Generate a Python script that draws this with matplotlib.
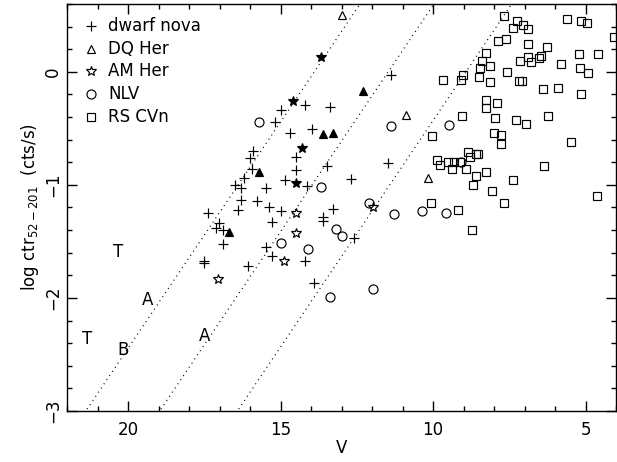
import matplotlib
matplotlib.use("Agg")
import matplotlib.pyplot as plt
from matplotlib.ticker import MultipleLocator
import numpy as np

plt.rcParams['font.family'] = ['DejaVu Sans']
plt.rcParams['font.size'] = 12
plt.rcParams['mathtext.fontset'] = 'dejavusans'

# dwarf novae (V mag, log count rate)
dn_v = [11.39, 14.21, 13.38, 13.99, 13.49, 11.49, 12.70, 14.13, 14.99, 15.19,
        14.70, 15.90, 16.01, 14.50, 15.95, 14.50, 16.21, 14.86, 16.50, 16.31,
        15.49, 16.31, 15.79, 17.40, 16.39, 15.39, 14.99, 17.02, 17.13, 16.89,
        16.89, 17.51, 17.51, 16.09, 15.49, 15.28, 14.21, 15.29, 13.90, 13.60,
        13.60, 13.30, 12.59]
dn_ctr = [-0.03, -0.29, -0.31, -0.51, -0.83, -0.81, -0.95, -1.01, -0.34, -0.44,
          -0.54, -0.70, -0.76, -0.75, -0.86, -0.87, -0.94, -0.96, -1.00, -1.03,
          -1.03, -1.13, -1.14, -1.25, -1.22, -1.20, -1.23, -1.34, -1.38, -1.40,
          -1.52, -1.67, -1.69, -1.72, -1.55, -1.63, -1.67, -1.33, -1.87, -1.28,
          -1.32, -1.21, -1.47]

# DQ Her (open) and the solid ones
dq_v = [13.00, 10.89, 10.18]
dq_ctr = [0.50, -0.38, -0.94]
dq_solid_v = [12.29, 13.60, 13.30, 15.71, 16.69]
dq_solid_ctr = [-0.17, -0.55, -0.54, -0.89, -1.42]

# AM Her (open) and the solid ones
am_v = [14.50, 14.50, 14.88, 17.07, 11.96]
am_ctr = [-1.25, -1.43, -1.67, -1.83, -1.20]
am_solid_v = [13.69, 14.59, 14.29, 14.50]
am_solid_ctr = [0.13, -0.26, -0.67, -0.98]

# nova-like variables
nlv_v = [15.71, 11.38, 9.48, 13.69, 9.09, 12.09, 11.28, 10.38, 9.58, 13.19,
         12.99, 14.10, 13.38, 11.98, 15.00]
nlv_ctr = [-0.44, -0.48, -0.47, -1.02, -0.80, -1.16, -1.26, -1.23, -1.25, -1.39,
           -1.45, -1.57, -1.99, -1.92, -1.51]

# RS CVn systems
rs_v = [7.66, 7.26, 7.39, 7.05, 6.88, 5.62, 5.15, 4.96, 4.05, 7.88,
        7.62, 6.88, 6.27, 8.27, 5.20, 4.58, 8.39, 7.15, 6.90, 6.78,
        6.53, 6.47, 5.79, 8.47, 8.14, 5.18, 4.93, 7.59, 9.01, 9.69,
        9.09, 8.49, 8.14, 7.18, 7.07, 6.38, 5.89, 5.16, 8.27, 8.27,
        7.89, 9.06, 7.98, 7.28, 6.95, 6.24, 10.04, 7.99, 7.77, 7.77,
        5.48, 8.85, 8.79, 8.60, 8.53, 9.88, 9.77, 9.50, 9.32, 9.13,
        9.39, 8.93, 8.60, 8.27, 8.68, 7.39, 8.08, 6.35, 4.64, 10.07,
        9.17, 7.67, 8.71]
rs_ctr = [0.49, 0.45, 0.39, 0.41, 0.38, 0.47, 0.45, 0.43, 0.31, 0.27,
          0.29, 0.25, 0.22, 0.17, 0.16, 0.16, 0.10, 0.10, 0.13, 0.09,
          0.12, 0.14, 0.07, 0.03, 0.05, 0.03, -0.01, 0.00, -0.03, -0.07,
          -0.07, -0.05, -0.09, -0.08, -0.08, -0.15, -0.14, -0.20, -0.25, -0.32,
          -0.28, -0.39, -0.41, -0.43, -0.46, -0.39, -0.57, -0.54, -0.56, -0.64,
          -0.62, -0.71, -0.75, -0.73, -0.73, -0.78, -0.82, -0.80, -0.80, -0.80,
          -0.86, -0.86, -0.92, -0.89, -1.00, -0.96, -1.05, -0.83, -1.10, -1.16,
          -1.22, -1.16, -1.40]

# lines of constant X-ray to optical flux ratio: log ctr = -0.4 V + c
ratio_offsets = [5.56, 4.59, 3.57]

# letters marking individual objects
tag_text = ['T', 'A', 'T', 'B', 'A']
tag_v = [20.33, 19.38, 21.35, 20.19, 17.49]
tag_ctr = [-1.59, -2.02, -2.36, -2.46, -2.34]

fig = plt.figure(figsize=(6.17, 4.62), dpi=100)
ax = fig.add_axes([0.1094, 0.1104, 0.8890, 0.8810])

vv = np.array([23.0, 3.0])
for c in ratio_offsets:
    ax.plot(vv, -0.4 * vv + c, color='black', linestyle=(0, (0.8, 3.2)), linewidth=0.9)

mk = dict(linestyle='none', color='black', markeredgewidth=0.85)
ax.plot(dn_v, dn_ctr, marker='+', markersize=7, **mk)
ax.plot(dq_v, dq_ctr, marker='^', markersize=6, markerfacecolor='none', **mk)
ax.plot(dq_solid_v, dq_solid_ctr, marker='^', markersize=6, **mk)
ax.plot(am_v, am_ctr, marker='*', markersize=7.5, markerfacecolor='none', **mk)
ax.plot(am_solid_v, am_solid_ctr, marker='*', markersize=7.5, **mk)
ax.plot(nlv_v, nlv_ctr, marker='o', markersize=6.5, markerfacecolor='none', **mk)
ax.plot(rs_v, rs_ctr, marker='s', markersize=5.5, markerfacecolor='none', **mk)

for t, v, y in zip(tag_text, tag_v, tag_ctr):
    ax.text(v, y, t, ha='center', va='center')

# key in the upper left corner
key = [('+', 7, 'dwarf nova'), ('^', 6, 'DQ Her'), ('*', 7.5, 'AM Her'),
       ('o', 6.5, 'NLV'), ('s', 5.5, 'RS CVn')]
for i, (m, ms, lab) in enumerate(key):
    y = 0.946 - i * 0.0557
    ax.plot([0.043], [y], transform=ax.transAxes, marker=m, markersize=ms,
            markerfacecolor='none', **mk)
    ax.text(0.074, y, lab, transform=ax.transAxes, ha='left', va='center')

ax.set_xlim(22, 4)
ax.set_ylim(-3, 0.6)
ax.xaxis.set_major_locator(MultipleLocator(5))
ax.xaxis.set_minor_locator(MultipleLocator(1))
ax.yaxis.set_major_locator(MultipleLocator(1))
ax.yaxis.set_minor_locator(MultipleLocator(0.2))
ax.tick_params(which='both', direction='in', top=True, right=True, width=1)
ax.tick_params(which='major', length=7)
ax.tick_params(which='minor', length=3.6)
ax.tick_params(axis='x', pad=7)
ax.tick_params(axis='y', pad=4)
for lab in ax.get_yticklabels():
    lab.set_rotation(90)
    lab.set_va('center')
for s in ax.spines.values():
    s.set_linewidth(1)

ax.set_xlabel('V', labelpad=0)
ax.set_ylabel(r'log ctr$_{52-201}$  (cts/s)', labelpad=2)

fig.savefig('out.png', dpi=100)
